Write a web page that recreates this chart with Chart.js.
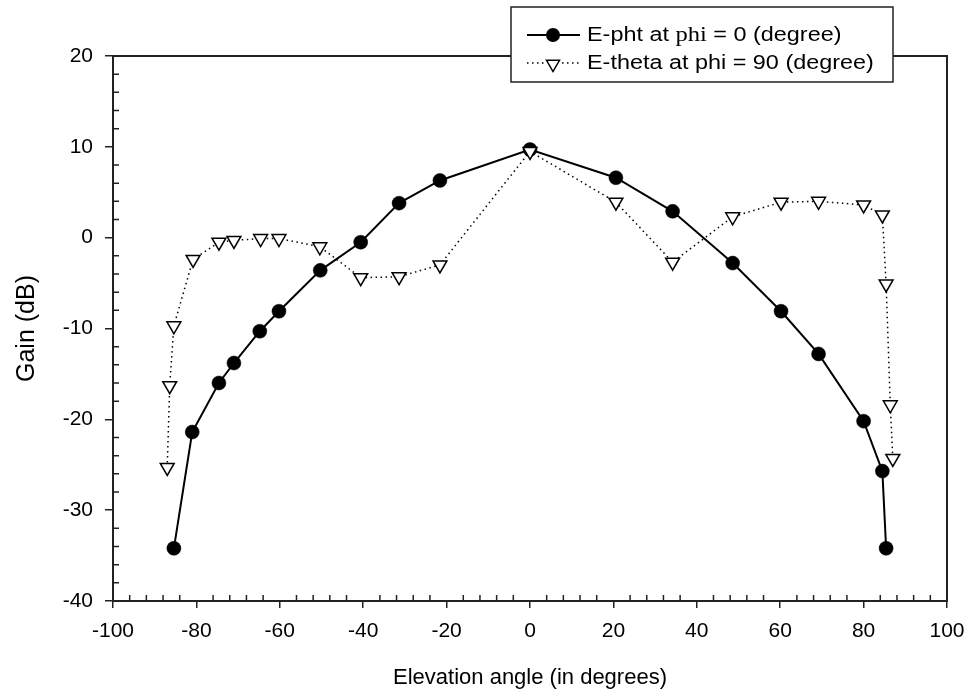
<!DOCTYPE html>
<html><head><meta charset="utf-8">
<script src="https://cdn.jsdelivr.net/npm/chart.js@4/dist/chart.umd.min.js"></script>
<style>html,body{margin:0;padding:0;background:#fff;overflow:hidden}#wrap{width:969px;height:696px;position:relative}</style>
</head><body><div id="wrap"><canvas id="c"></canvas></div>
<script>
const phtAngles = [-85.4, -81, -74.6, -71, -64.8, -60.2, -50.3, -40.6, -31.4, -21.6, 0, 20.6, 34.2, 48.6, 60.2, 69.2, 80, 84.5, 85.4];
const phtGain   = [-34.2, -21.4, -16.0, -13.8, -10.3, -8.1, -3.6, -0.5, 3.8, 6.3, 9.7, 6.6, 2.9, -2.8, -8.1, -12.8, -20.2, -25.7, -34.2];
const thetaAngles = [-87, -86.4, -85.4, -80.8, -74.6, -71, -64.6, -60.2, -50.4, -40.6, -31.4, -21.6, 0, 20.6, 34.2, 48.6, 60.2, 69.2, 80, 84.5, 85.4, 86.4, 87];
const thetaGain   = [-25.3, -16.3, -9.7, -2.4, -0.5, -0.3, -0.1, -0.1, -1.0, -4.4, -4.3, -3.0, 9.5, 3.9, -2.7, 2.3, 3.9, 4.0, 3.6, 2.5, -5.1, -18.4, -24.3];
const xTickValues = [-100, -80, -60, -40, -20, 0, 20, 40, 60, 80, 100];
const yTickValues = [-40, -30, -20, -10, 0, 10, 20];
const legendLabels = ["E-pht at phi = 0 (degree)", "E-theta at phi = 90 (degree)"];

const FONT = "'Liberation Sans', Arial, sans-serif";

const framePlugin = {
  id: 'frame',
  afterDraw(chart) {
    const ctx = chart.ctx, a = chart.chartArea;
    const xs = chart.scales.x, ys = chart.scales.y;
    ctx.save();
    ctx.strokeStyle = '#222';
    ctx.lineWidth = 2;
    ctx.strokeRect(a.left, a.top, a.right - a.left, a.bottom - a.top);
    ctx.lineWidth = 1.5;
    ctx.beginPath();
    for (let v = -100; v <= 100; v += 4) {
      if (v % 20 === 0) continue;
      const px = xs.getPixelForValue(v);
      ctx.moveTo(px, a.bottom); ctx.lineTo(px, a.bottom - 6);
    }
    for (let v = -40; v <= 20; v += 2) {
      if (v % 10 === 0) continue;
      const py = ys.getPixelForValue(v);
      ctx.moveTo(a.left, py); ctx.lineTo(a.left + 6, py);
    }
    ctx.stroke();
    const bx = 511, by = 7, bw = 382, bh = 75;
    ctx.fillStyle = '#fff';
    ctx.fillRect(bx, by, bw, bh);
    ctx.lineWidth = 1.5;
    ctx.strokeStyle = '#222';
    ctx.strokeRect(bx, by, bw, bh);
    const rows = [35, 63];
    ctx.strokeStyle = '#000';
    ctx.lineWidth = 2;
    ctx.setLineDash([]);
    ctx.beginPath(); ctx.moveTo(527, rows[0]); ctx.lineTo(580, rows[0]); ctx.stroke();
    ctx.fillStyle = '#000';
    ctx.beginPath(); ctx.arc(553, rows[0], 7, 0, Math.PI * 2); ctx.fill();
    ctx.lineWidth = 1.5;
    ctx.setLineDash([1.5, 3.5]);
    ctx.beginPath(); ctx.moveTo(527, rows[1]); ctx.lineTo(580, rows[1]); ctx.stroke();
    ctx.setLineDash([]);
    ctx.fillStyle = '#fff';
    ctx.fillRect(544, rows[1] - 7, 18, 14);
    ctx.beginPath();
    const r = 7.5, cx = 553, cy = rows[1] + 1;
    ctx.moveTo(cx - r * 0.866, cy - r * 0.5);
    ctx.lineTo(cx + r * 0.866, cy - r * 0.5);
    ctx.lineTo(cx, cy + r);
    ctx.closePath();
    ctx.fillStyle = '#fff'; ctx.fill();
    ctx.strokeStyle = '#000'; ctx.lineWidth = 1.5; ctx.stroke();
    const sx = 1.17;
    ctx.fillStyle = '#000';
    ctx.textBaseline = 'middle';
    ctx.textAlign = 'left';
    const parts1 = legendLabels[0].split('phi');
    ctx.save();
    ctx.translate(587, rows[0]);
    ctx.scale(sx, 1);
    let tx = 0;
    ctx.font = '20px ' + FONT;
    ctx.fillText(parts1[0], tx, 0);
    tx += ctx.measureText(parts1[0]).width;
    ctx.font = "21px 'Liberation Serif', 'Times New Roman', serif";
    ctx.fillText('phi', tx, 0);
    tx += ctx.measureText('phi').width;
    ctx.font = '20px ' + FONT;
    ctx.fillText(parts1[1], tx, 0);
    ctx.restore();
    ctx.save();
    ctx.translate(587, rows[1]);
    ctx.scale(sx, 1);
    ctx.font = '20px ' + FONT;
    ctx.fillText(legendLabels[1], 0, 0);
    ctx.restore();
    ctx.restore();
  }
};

new Chart(document.getElementById('c'), {
  type: 'scatter',
  data: {
    datasets: [
      {
        label: legendLabels[0],
        data: phtAngles.map((x, i) => ({x, y: phtGain[i]})),
        showLine: true,
        borderColor: '#000',
        borderWidth: 2,
        backgroundColor: '#000',
        pointStyle: 'circle',
        pointRadius: 7,
        pointBorderWidth: 0.5,
        pointBackgroundColor: '#000',
        pointBorderColor: '#000',
        order: 1
      },
      {
        label: legendLabels[1],
        data: thetaAngles.map((x, i) => ({x, y: thetaGain[i]})),
        showLine: true,
        borderColor: '#000',
        borderWidth: 1.5,
        borderDash: [1.5, 3.5],
        backgroundColor: '#fff',
        pointStyle: 'triangle',
        rotation: 180,
        pointRadius: 8,
        pointBorderWidth: 1.5,
        pointBackgroundColor: '#fff',
        pointBorderColor: '#000',
        order: 0
      }
    ]
  },
  options: {
    responsive: true,
    maintainAspectRatio: false,
    animation: false,
    layout: { padding: { left: 0, right: 22, top: 56, bottom: 0 } },
    plugins: { legend: { display: false }, tooltip: { enabled: false } },
    scales: {
      x: {
        type: 'linear', min: -100, max: 100,
        afterBuildTicks: s => { s.ticks = xTickValues.map(v => ({value: v})); },
        afterFit: s => { s.height = 95; s.paddingRight = 0; s.paddingLeft = 0; },
        grid: { drawOnChartArea: false, drawTicks: true, tickLength: 7, color: '#222', lineWidth: 1.5 },
        border: { display: false },
        ticks: { color: '#000', font: { family: FONT, size: 21 }, padding: 11, maxRotation: 0 },
        title: { display: true, text: 'Elevation angle (in degrees)', color: '#000', font: { family: FONT, size: 22, lineHeight: 1.6 }, padding: { top: 10, bottom: 0 } }
      },
      y: {
        type: 'linear', min: -40, max: 20,
        afterBuildTicks: s => { s.ticks = yTickValues.map(v => ({value: v})); },
        afterFit: s => { s.width = 113; s.paddingTop = 0; s.paddingBottom = 0; },
        grid: { drawOnChartArea: false, drawTicks: true, tickLength: 8, color: '#222', lineWidth: 1.5 },
        border: { display: false },
        ticks: { color: '#000', font: { family: FONT, size: 21 }, padding: 12 },
        title: { display: true, text: 'Gain (dB)', color: '#000', font: { family: FONT, size: 25, lineHeight: 2.16 }, padding: { top: 0, bottom: 0 } }
      }
    }
  },
  plugins: [framePlugin]
});
</script></body></html>
